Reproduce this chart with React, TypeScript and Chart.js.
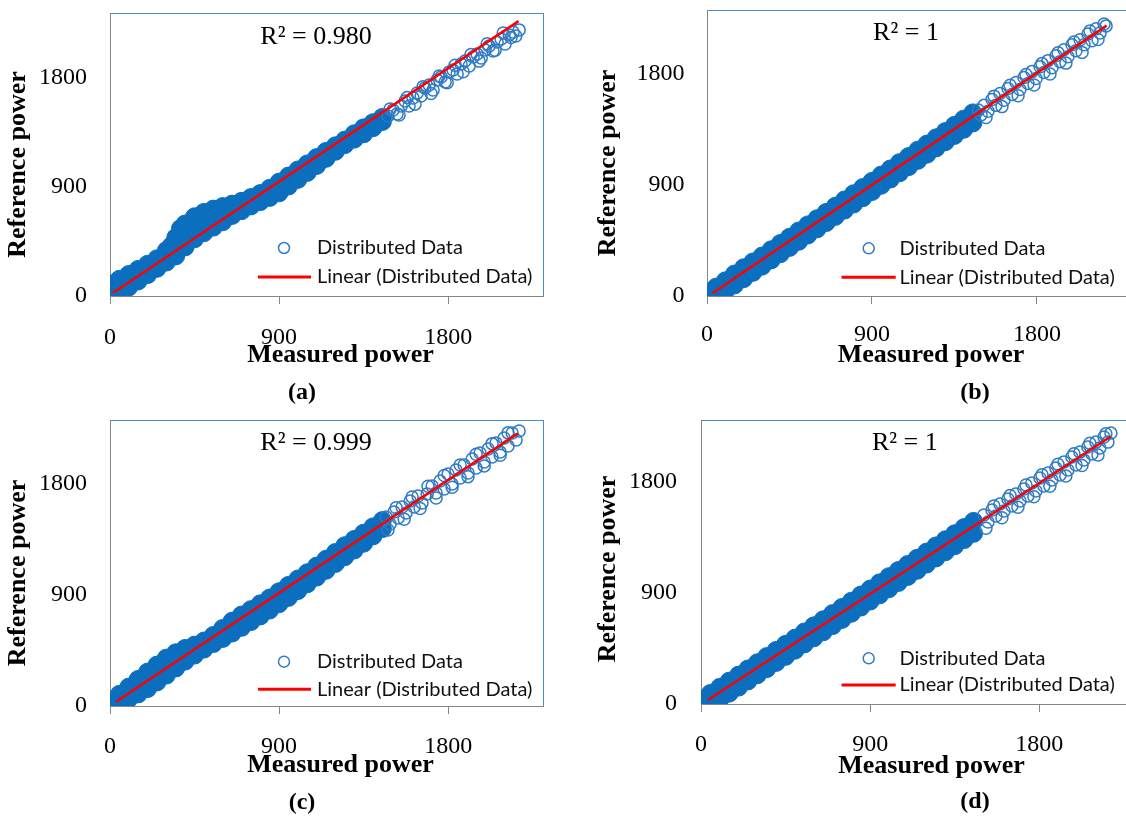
import React, { useEffect, useRef } from "react";
import { Chart, registerables } from "chart.js";

Chart.register(...registerables);

// ---------------- data ----------------
const xTickValues = [0, 900, 1800];
const yTickValues = [0, 900, 1800];
const xAxisTitle = "Measured power";
const yAxisTitle = "Reference power";
const seriesLabel = "Distributed Data";
const trendLabel = "Linear (Distributed Data)";
const panelLabels = ["(a)", "(b)", "(c)", "(d)"];
const r2Labels = ["R² = 0.980", "R² = 1", "R² = 0.999", "R² = 1"];

// (a) dense cloud [measured, reference]
const aCore = [
  [0, 99], [50, 137], [100, 177], [150, 219], [200, 261], [250, 306], [300, 374], [325, 411], [350, 481], [375, 555],
  [400, 593], [450, 652], [500, 688], [550, 715], [600, 736], [650, 756], [700, 779], [750, 810], [800, 843], [850, 886],
  [900, 937], [950, 987], [1000, 1037], [1050, 1087], [1100, 1139], [1150, 1190], [1200, 1236], [1250, 1283], [1300, 1335],
  [1350, 1384], [1400, 1426], [1450, 1470],
  [0, 41], [20, 8], [50, 45], [100, 74], [150, 124], [200, 176], [250, 228], [300, 279], [350, 330], [400, 404], [450, 471],
  [500, 521], [550, 567], [600, 611], [650, 663], [700, 702], [750, 741], [800, 777], [850, 811], [900, 849], [950, 905],
  [1000, 960], [1050, 1017], [1100, 1074], [1150, 1133], [1200, 1191], [1250, 1246], [1300, 1291], [1350, 1335],
  [1400, 1385], [1450, 1436],
  [350, 405], [375, 457], [400, 499], [450, 561], [500, 605], [550, 642], [600, 675],
];
// (a) sparse upper tail
const aTail = [
  [1480, 1481], [1507, 1531], [1528, 1498], [1550, 1564], [1571, 1605], [1592, 1564], [1613, 1630], [1635, 1671],
  [1656, 1646], [1677, 1712], [1699, 1737], [1720, 1695], [1741, 1778], [1763, 1802], [1784, 1761], [1805, 1844],
  [1826, 1860], [1848, 1827], [1869, 1909], [1890, 1934], [1912, 1893], [1933, 1967], [1954, 1992], [1976, 1959],
  [1997, 2025], [2018, 2058], [2039, 2016], [2061, 2090], [2082, 2115], [2103, 2074], [2125, 2148], [2146, 2173],
  [2160, 2140], [2178, 2190],
  [1491, 1539], [1539, 1490], [1582, 1634], [1624, 1579], [1667, 1723], [1709, 1667], [1752, 1811], [1795, 1756],
  [1837, 1899], [1880, 1845], [1922, 1988], [1965, 1933], [2008, 2076], [2050, 2022], [2093, 2165], [2135, 2127],
];
const aTrendX = [15, 2175];
const aTrendY = [25, 2262];

// (b)
const bCore = [
  [0, 20], [50, 72], [100, 123], [150, 178], [200, 229], [250, 276], [300, 324], [350, 375], [400, 426], [450, 476],
  [500, 527], [550, 577], [600, 627], [650, 678], [700, 728], [750, 779], [800, 830], [850, 880], [900, 930], [950, 981],
  [1000, 1031], [1050, 1082], [1100, 1132], [1150, 1183], [1200, 1233], [1250, 1284], [1300, 1334], [1350, 1385],
  [1400, 1435], [1450, 1486],
  [0, 0], [50, 0], [100, 40], [150, 90], [200, 141], [250, 192], [300, 242], [350, 293], [400, 343], [450, 394],
  [500, 444], [550, 495], [600, 545], [650, 596], [700, 646], [750, 697], [800, 747], [850, 798], [900, 848], [950, 899],
  [1000, 949], [1050, 1000], [1100, 1050], [1150, 1101], [1200, 1151], [1250, 1202], [1300, 1252], [1350, 1303],
  [1400, 1353], [1450, 1404],
];
const bTail = [
  [1480, 1510], [1495, 1470], [1511, 1547], [1533, 1499], [1555, 1595], [1576, 1547], [1598, 1644], [1620, 1588],
  [1642, 1684], [1664, 1636], [1686, 1732], [1707, 1676], [1729, 1773], [1751, 1724], [1773, 1821], [1795, 1765],
  [1817, 1861], [1838, 1813], [1860, 1910], [1882, 1853], [1904, 1950], [1926, 1902], [1947, 1998], [1969, 1942],
  [1991, 2039], [2013, 1990], [2035, 2079], [2057, 2039], [2078, 2127], [2100, 2071], [2122, 2168], [2144, 2135],
  [2166, 2208], [2177, 2192],
  [1522, 1449], [1566, 1622], [1609, 1537], [1653, 1710], [1697, 1625], [1740, 1798], [1784, 1713], [1827, 1886],
  [1871, 1801], [1915, 1974], [1958, 1890], [2002, 2062], [2046, 1977], [2089, 2151], [2133, 2081],
];
const bTrendX = [30, 2180];
const bTrendY = [22, 2194];

// (c)
const cCore = [
  [0, 30], [50, 94], [100, 153], [150, 215], [200, 274], [250, 331], [300, 387], [350, 430], [400, 465], [450, 492],
  [500, 525], [550, 570], [600, 627], [650, 686], [700, 735], [750, 779], [800, 826], [850, 873], [900, 924], [950, 975],
  [1000, 1026], [1050, 1077], [1100, 1131], [1150, 1186], [1200, 1241], [1250, 1296], [1300, 1346], [1350, 1397],
  [1400, 1448], [1450, 1499],
  [0, 0], [50, 13], [100, 58], [150, 98], [200, 141], [250, 194], [300, 250], [350, 307], [400, 363], [450, 412],
  [500, 460], [550, 505], [600, 546], [650, 590], [700, 636], [750, 683], [800, 728], [850, 776], [900, 827], [950, 878],
  [1000, 933], [1050, 988], [1100, 1042], [1150, 1097], [1200, 1152], [1250, 1207], [1300, 1261], [1350, 1316],
  [1400, 1375], [1450, 1434],
  [250, 262], [300, 319], [350, 369],
];
const cTail = [
  [1470, 1528], [1491, 1471], [1512, 1568], [1534, 1520], [1555, 1609], [1576, 1560], [1598, 1657], [1619, 1609],
  [1640, 1698], [1661, 1641], [1688, 1714], [1715, 1778], [1736, 1722], [1757, 1819], [1779, 1754], [1800, 1875],
  [1821, 1795], [1842, 1908], [1864, 1843], [1885, 1948], [1906, 1884], [1928, 1997], [1949, 1924], [1970, 2045],
  [1992, 1972], [2013, 2078], [2034, 2013], [2055, 2126], [2077, 2053], [2098, 2167], [2119, 2102], [2141, 2207],
  [2162, 2150], [2178, 2223],
  [1480, 1423], [1523, 1603], [1566, 1509], [1608, 1690], [1651, 1596], [1693, 1776], [1736, 1681], [1779, 1863],
  [1821, 1768], [1864, 1948], [1906, 1854], [1949, 2035], [1992, 1941], [2034, 2121], [2077, 2027], [2119, 2208],
];
const cTrendX = [32, 2172];
const cTrendY = [35, 2204];

// (d)
const dCore = [
  [0, 35], [50, 85], [100, 135], [150, 185], [200, 234], [250, 284], [300, 334], [350, 384], [400, 434], [450, 483],
  [500, 533], [550, 583], [600, 633], [650, 682], [700, 732], [750, 782], [800, 832], [850, 882], [900, 931], [950, 981],
  [1000, 1031], [1050, 1081], [1100, 1130], [1150, 1180], [1200, 1230], [1250, 1280], [1300, 1330], [1350, 1379],
  [1400, 1429], [1450, 1479],
  [0, 0], [50, 0], [100, 38], [150, 88], [200, 137], [250, 187], [300, 237], [350, 287], [400, 337], [450, 386],
  [500, 436], [550, 486], [600, 536], [650, 585], [700, 635], [750, 685], [800, 735], [850, 785], [900, 834], [950, 884],
  [1000, 934], [1050, 984], [1100, 1033], [1150, 1083], [1200, 1133], [1250, 1183], [1300, 1233], [1350, 1282],
  [1400, 1332], [1450, 1382],
];
const dTail = [
  [1505, 1530], [1527, 1474], [1548, 1571], [1569, 1522], [1590, 1619], [1612, 1563], [1633, 1660], [1654, 1603],
  [1675, 1700], [1697, 1644], [1718, 1741], [1739, 1684], [1760, 1790], [1782, 1725], [1803, 1830], [1824, 1765],
  [1846, 1871], [1867, 1814], [1888, 1911], [1910, 1854], [1931, 1960], [1952, 1895], [1973, 2000], [1995, 1935],
  [2016, 2040], [2037, 1976], [2058, 2081], [2080, 2024], [2101, 2121], [2122, 2073], [2144, 2162], [2165, 2121],
  [2181, 2194],
  [1516, 1423], [1558, 1603], [1601, 1508], [1644, 1688], [1686, 1593], [1729, 1773], [1771, 1678], [1814, 1857],
  [1856, 1763], [1899, 1942], [1941, 1847], [1984, 2027], [2027, 1932], [2069, 2112], [2112, 2017], [2154, 2189],
];
const dTrendX = [37, 2180];
const dTrendY = [32, 2166];

// ---------------- styling / layout ----------------
const SERIF = "'Liberation Serif', 'Times New Roman', serif";
const SANS = "Lato, 'Open Sans', sans-serif";
const AXIS_GRAY = "#868686";
const BOX_BLUE = "#4A8CCB";
const CORE_BLUE = "#0B6EBE";
const TAIL_BLUE = "#2F7BC4";
const TREND_RED = "#FF0000";

type PanelCfg = {
  core: number[][];
  tail: number[][];
  trendX: number[];
  trendY: number[];
  r2: string;
  label: string;
  box: { left: number; top: number; width: number; height: number };
  pad: { top: number; right: number; bottom: number };
  yAxisWidth: number;
  xAxisHeight: number;
  yTickPad: number;
  xTickPad: number;
  yTitlePad: number;
  xTitleShift: number;
  yTitleShift: number;
  xMax: number;
  yMax: number;
  r2Pos: number[];
  legend: { markerX: number; row1: number; row2: number; lineX1: number; lineX2: number; textX: number };
  labelPos: number[];
};

const panels: PanelCfg[] = [
  {
    core: aCore, tail: aTail, trendX: aTrendX, trendY: aTrendY, r2: r2Labels[0], label: panelLabels[0],
    box: { left: 0, top: 0, width: 563, height: 410 },
    pad: { top: 13, right: 20, bottom: 39 },
    yAxisWidth: 110, xAxisHeight: 75, yTickPad: 23, xTickPad: 19, yTitlePad: 2.4,
    xTitleShift: 14, yTitleShift: 10,
    xMax: 2305, yMax: 2329,
    r2Pos: [316, 37],
    legend: { markerX: 284, row1: 248, row2: 277, lineX1: 258, lineX2: 311, textX: 317 },
    labelPos: [302, 393],
  },
  {
    core: bCore, tail: bTail, trendX: bTrendX, trendY: bTrendY, r2: r2Labels[1], label: panelLabels[1],
    box: { left: 590, top: 0, width: 560, height: 410 },
    pad: { top: 8, right: 21, bottom: 39 },
    yAxisWidth: 117, xAxisHeight: 75, yTickPad: 22.5, xTickPad: 16.6, yTitlePad: 3.1,
    xTitleShift: 13, yTitleShift: 10,
    xMax: 2302, yMax: 2321,
    r2Pos: [906, 33.5],
    legend: { markerX: 868.7, row1: 248.3, row2: 277.3, lineX1: 841.6, lineX2: 895.7, textX: 899.4 },
    labelPos: [975, 393],
  },
  {
    core: cCore, tail: cTail, trendX: cTrendX, trendY: cTrendY, r2: r2Labels[2], label: panelLabels[2],
    box: { left: 0, top: 400, width: 563, height: 416 },
    pad: { top: 20, right: 20, bottom: 35 },
    yAxisWidth: 110, xAxisHeight: 75, yTickPad: 23, xTickPad: 18.3, yTitlePad: 2.4,
    xTitleShift: 14, yTitleShift: 10,
    xMax: 2305, yMax: 2312,
    r2Pos: [316, 443.3],
    legend: { markerX: 284, row1: 661.7, row2: 689.3, lineX1: 258, lineX2: 311, textX: 317 },
    labelPos: [302, 803],
  },
  {
    core: dCore, tail: dTail, trendX: dTrendX, trendY: dTrendY, r2: r2Labels[3], label: panelLabels[3],
    box: { left: 590, top: 400, width: 560, height: 416 },
    pad: { top: 20, right: 18, bottom: 34 },
    yAxisWidth: 111, xAxisHeight: 78, yTickPad: 24, xTickPad: 18.6, yTitlePad: 3.1,
    xTitleShift: 15, yTitleShift: 7,
    xMax: 2293, yMax: 2300,
    r2Pos: [904.8, 443.3],
    legend: { markerX: 868.7, row1: 658.3, row2: 685, lineX1: 841.6, lineX2: 895.7, textX: 899.4 },
    labelPos: [975, 801.7],
  },
];

// shift where the axis title is centred along its axis (the reference titles are off-centre)
function shiftAxisTitle(s: any, dx: number, dy: number) {
  if (s.__titleShifted) return;
  s.__titleShifted = true;
  const orig = s.drawTitle.bind(s);
  s.drawTitle = () => {
    s.left += dx; s.right += dx; s.top += dy; s.bottom += dy;
    try { orig(); } finally {
      s.left -= dx; s.right -= dx; s.top -= dy; s.bottom -= dy;
    }
  };
}

function makeOverlay(p: PanelCfg) {
  return {
    id: "panelOverlay",
    beforeDraw(chart: any) {
      const { ctx, chartArea: a } = chart;
      ctx.save();
      ctx.strokeStyle = BOX_BLUE;
      ctx.lineWidth = 1;
      ctx.strokeRect(Math.round(a.left) + 0.5, Math.round(a.top) + 0.5, Math.round(a.right - a.left), Math.round(a.bottom - a.top));
      ctx.restore();
    },
    afterDraw(chart: any) {
      const ctx = chart.ctx;
      const ox = p.box.left;
      const oy = p.box.top;
      const lg = p.legend;
      ctx.save();
      ctx.textBaseline = "middle";
      // R² annotation
      ctx.font = `26px ${SERIF}`;
      ctx.fillStyle = "#000";
      ctx.textAlign = "center";
      ctx.fillText(p.r2, p.r2Pos[0] - ox, p.r2Pos[1] - oy);
      // legend
      ctx.beginPath();
      ctx.arc(lg.markerX - ox, lg.row1 - oy, 5.5, 0, Math.PI * 2);
      ctx.strokeStyle = TAIL_BLUE;
      ctx.lineWidth = 1.5;
      ctx.stroke();
      ctx.beginPath();
      ctx.moveTo(lg.lineX1 - ox, lg.row2 - oy);
      ctx.lineTo(lg.lineX2 - ox, lg.row2 - oy);
      ctx.strokeStyle = TREND_RED;
      ctx.lineWidth = 3;
      ctx.stroke();
      ctx.font = `20px ${SANS}`;
      ctx.fillStyle = "#111";
      ctx.textAlign = "left";
      ctx.fillText(seriesLabel, lg.textX - ox, lg.row1 - oy);
      ctx.fillText(trendLabel, lg.textX - ox, lg.row2 - oy);
      // panel label
      ctx.font = `bold 24px ${SERIF}`;
      ctx.textAlign = "center";
      ctx.fillStyle = "#000";
      ctx.fillText(p.label, p.labelPos[0] - ox, p.labelPos[1] - oy);
      ctx.restore();
    },
  };
}

function Panel({ p }: { p: PanelCfg }) {
  const ref = useRef<HTMLCanvasElement | null>(null);
  useEffect(() => {
    if (!ref.current) return;
    const toPts = (arr: number[][]) => arr.map(([x, y]) => ({ x, y }));
    const chart = new Chart(ref.current, {
      type: "scatter",
      data: {
        datasets: [
          {
            label: trendLabel,
            data: p.trendX.map((x, i) => ({ x, y: p.trendY[i] })),
            showLine: true,
            borderColor: TREND_RED,
            borderWidth: 2.5,
            pointRadius: 0,
            order: 0,
          } as any,
          {
            label: seriesLabel,
            data: toPts(p.tail),
            pointRadius: 6,
            pointBorderWidth: 1.5,
            pointBorderColor: TAIL_BLUE,
            pointBackgroundColor: "rgba(0,0,0,0)",
            order: 1,
          },
          {
            label: seriesLabel,
            data: toPts(p.core),
            pointRadius: 9,
            pointBorderWidth: 1,
            pointBorderColor: CORE_BLUE,
            pointBackgroundColor: CORE_BLUE,
            order: 2,
          },
        ],
      },
      options: {
        responsive: false,
        animation: false,
        devicePixelRatio: 1,
        events: [],
        layout: { padding: { left: 0, top: p.pad.top, right: p.pad.right, bottom: p.pad.bottom } },
        plugins: { legend: { display: false }, tooltip: { enabled: false }, title: { display: false } },
        scales: {
          x: {
            type: "linear",
            position: "bottom",
            min: 0,
            max: p.xMax,
            afterBuildTicks: (s: any) => {
              s.ticks = xTickValues.map((v) => ({ value: v }));
            },
            afterFit: (s: any) => {
              s.height = p.xAxisHeight;
              s.paddingLeft = 0;
              s.paddingRight = 0;
              shiftAxisTitle(s, p.xTitleShift, 0);
            },
            grid: { drawOnChartArea: false, drawTicks: true, tickLength: 8, color: AXIS_GRAY },
            border: { display: true, color: AXIS_GRAY, width: 1 },
            ticks: {
              padding: p.xTickPad,
              color: "#000",
              font: { family: SERIF, size: 24 },
              maxRotation: 0,
              autoSkip: false,
              callback: (v: any) => String(v),
            },
            title: {
              display: true,
              text: xAxisTitle,
              color: "#000",
              font: { family: SERIF, size: 26, weight: "bold" },
              padding: { top: 0, bottom: 0 },
            },
          },
          y: {
            type: "linear",
            position: "left",
            min: 0,
            max: p.yMax,
            afterBuildTicks: (s: any) => {
              s.ticks = yTickValues.map((v) => ({ value: v }));
            },
            afterFit: (s: any) => {
              s.width = p.yAxisWidth;
              s.paddingTop = 0;
              s.paddingBottom = 0;
              shiftAxisTitle(s, 0, p.yTitleShift);
            },
            grid: { drawOnChartArea: false, drawTicks: false, color: AXIS_GRAY },
            border: { display: true, color: AXIS_GRAY, width: 1 },
            ticks: {
              padding: p.yTickPad,
              color: "#000",
              font: { family: SERIF, size: 24 },
              autoSkip: false,
              callback: (v: any) => String(v),
            },
            title: {
              display: true,
              text: yAxisTitle,
              color: "#000",
              font: { family: SERIF, size: 26, weight: "bold" },
              padding: { top: p.yTitlePad, bottom: 0 },
            },
          },
        },
      } as any,
      plugins: [makeOverlay(p)],
    });
    return () => chart.destroy();
  }, [p]);
  return (
    <canvas
      ref={ref}
      width={p.box.width}
      height={p.box.height}
      style={{ position: "absolute", left: p.box.left, top: p.box.top, width: p.box.width, height: p.box.height }}
    />
  );
}

export default function App() {
  return (
    <div style={{ position: "fixed", left: 0, top: 0, width: 1126, height: 816, overflow: "hidden", background: "#fff" }}>
      {panels.map((p, i) => (
        <Panel key={i} p={p} />
      ))}
    </div>
  );
}
